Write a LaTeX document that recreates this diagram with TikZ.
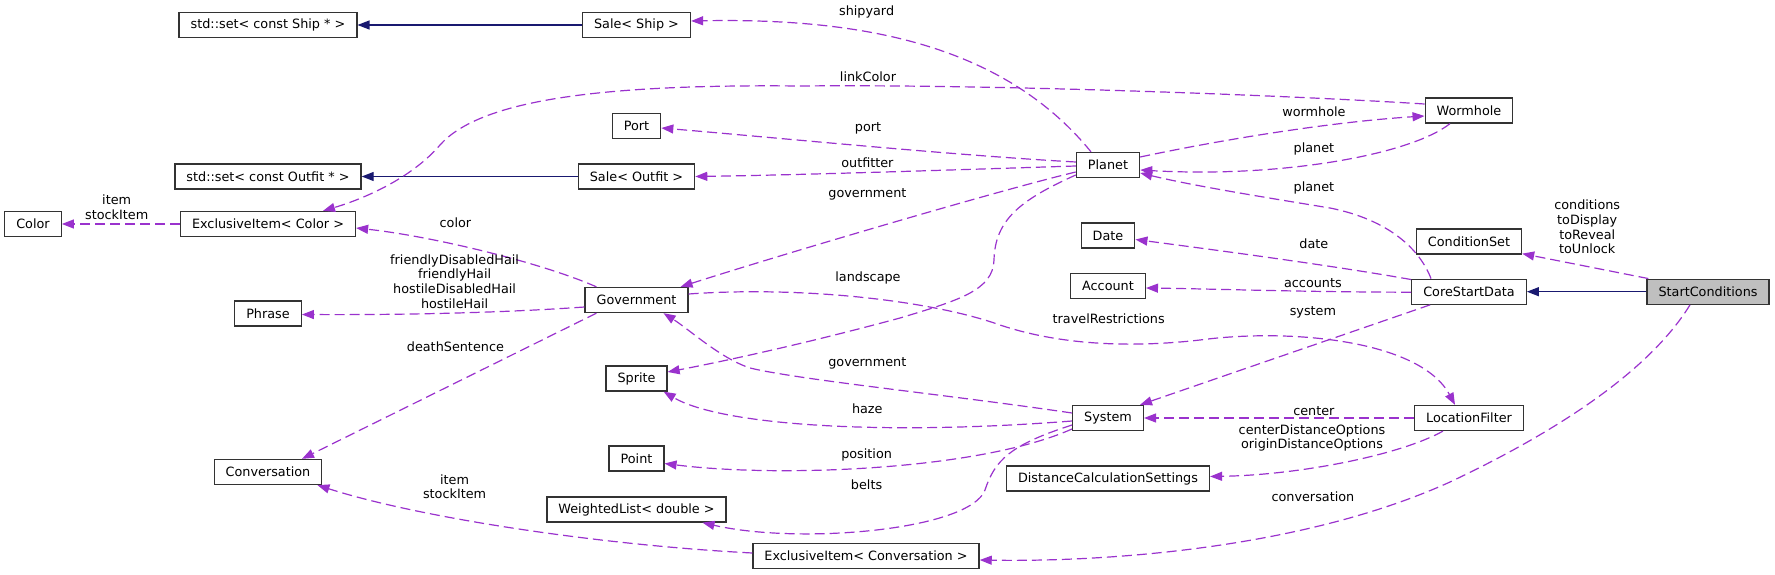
\documentclass[tikz,border=0pt]{standalone}
\usepackage{fontspec}
\setmainfont{DejaVu Sans}
\usetikzlibrary{arrows.meta,calc}
\definecolor{edgepurple}{HTML}{9A32CD}
\definecolor{inhblue}{HTML}{191970}
\definecolor{basegray}{HTML}{BFBFBF}
\newcommand{\diafont}{\fontsize{12.8}{14.7}\selectfont}
\begin{document}
\begin{tikzpicture}[x=1pt,y=-1pt,
 cls/.style={draw=black!80, fill=white, line width=1.3pt, minimum height=25pt, inner xsep=11.5pt, inner ysep=0pt, font=\diafont},
 rel/.style={draw=edgepurple, line width=1.2pt, dash pattern=on 10pt off 5pt, -{Triangle[length=12pt,width=9pt]}},
 inh/.style={draw=inhblue, line width=1.2pt, -{Triangle[length=12pt,width=9pt]}},
 lbl/.style={font=\diafont, inner sep=0pt, align=center}]
\useasboundingbox (0,0) rectangle (1775,575);
% nodes
\node[cls] (Color) at (33,224) {Color};
\node[cls] (ExclColor) at (268,224) {ExclusiveItem< Color >};
\node[cls] (SetShip) at (268,25) {std::set< const Ship * >};
\node[cls] (SetOutfit) at (268,176.5) {std::set< const Outfit * >};
\node[cls] (Phrase) at (268,313.5) {Phrase};
\node[cls] (Conversation) at (268,472) {Conversation};
\node[cls] (SaleShip) at (636.5,25) {Sale< Ship >};
\node[cls] (Port) at (636.5,126) {Port};
\node[cls] (SaleOutfit) at (636.5,176.5) {Sale< Outfit >};
\node[cls] (Government) at (636.5,300) {Government};
\node[cls] (Sprite) at (636.5,378.5) {Sprite};
\node[cls] (Point) at (636.5,458.5) {Point};
\node[cls] (WeightedList) at (636.5,509.5) {WeightedList< double >};
\node[cls] (ExclConversation) at (866,556) {ExclusiveItem< Conversation >};
\node[cls] (Planet) at (1108,165) {Planet};
\node[cls] (Date) at (1108,235.5) {Date};
\node[cls] (Account) at (1108,286) {Account};
\node[cls] (System) at (1108,418) {System};
\node[cls] (DistCalc) at (1108,478.5) {DistanceCalculationSettings};
\node[cls] (Wormhole) at (1469,110.5) {Wormhole};
\node[cls] (ConditionSet) at (1469,241.5) {ConditionSet};
\node[cls] (CoreStartData) at (1469,291.7) {CoreStartData};
\node[cls] (LocationFilter) at (1469,418) {LocationFilter};
\node[cls, fill=basegray] (StartConditions) at (1708,291.7) {StartConditions};
% inheritance
\draw[inh] (SaleShip.west) -- (SetShip.east);
\draw[inh] (SaleOutfit.west) -- (SetOutfit.east);
\draw[inh] (StartConditions.west) -- (CoreStartData.east);
% usage
\draw[rel] ($(Planet.north)+(-17,0)$) .. controls (1000,40) and (850,18) .. ($(SaleShip.east)+(0,-4)$);
\draw[rel] ($(Wormhole.west)+(0,-6.5)$) .. controls (1300,96) and (1000,84) .. (800,86) .. controls (600,84) and (480,100) .. (440,145) .. controls (410,180) and (360,200) .. ($(ExclColor.north)+(55,0)$);
\draw[rel] ($(Planet.east)+(0,-8)$) .. controls (1220,140) and (1330,122) .. ($(Wormhole.west)+(0,5.5)$);
\draw[rel] ($(Wormhole.south)+(-19,0)$) .. controls (1410,155) and (1280,178) .. ($(Planet.east)+(0,5)$);
\draw[rel] ($(CoreStartData.north)+(-38,0)$) .. controls (1420,250) and (1390,220) .. (1330,208) .. controls (1250,195) and (1190,185) .. ($(Planet.east)+(0,8)$);
\draw[rel] ($(Planet.west)+(0,-3)$) .. controls (950,155) and (780,138) .. ($(Port.east)+(0,2)$);
\draw[rel] ($(Planet.west)+(0,1)$) .. controls (950,170) and (800,175) .. (SaleOutfit.east);
\draw[rel] ($(Planet.west)+(0,7)$) .. controls (1000,190) and (780,255) .. ($(Government.north east)+(-8,0)$);
\draw[rel] ($(Planet.west)+(0,10)$) .. controls (1020,200) and (995,220) .. (994,260) .. controls (993,290) and (960,300) .. (900,318) .. controls (800,345) and (720,362) .. ($(Sprite.east)+(0,-6.5)$);
\draw[rel] ($(Government.north west)+(12,0)$) .. controls (540,262) and (430,236) .. ($(ExclColor.east)+(0,4)$);
\draw[rel] ($(Government.west)+(0,7)$) .. controls (500,313) and (400,315) .. ($(Phrase.east)+(0,1)$);
\draw[rel] ($(Government.south west)+(12,0)$) -- ($(Conversation.north)+(34,0)$);
\draw[rel] (ExclColor.west) -- (Color.east);
\draw[rel] ($(ExclConversation.west)+(0,-3)$) .. controls (600,545) and (420,518) .. ($(Conversation.south east)+(-5,0)$);
\draw[rel] ($(System.west)+(0,-5)$) .. controls (950,395) and (800,380) .. (750,368) .. controls (720,358) and (690,330) .. ($(Government.south)+(27,0)$);
\draw[rel] ($(System.west)+(0,3)$) .. controls (880,436) and (720,425) .. ($(Sprite.south east)+(-4,0)$);
\draw[rel] ($(System.west)+(0,11)$) .. controls (980,470) and (780,478) .. ($(Point.east)+(0,5)$);
\draw[rel] ($(System.west)+(0,7)$) .. controls (1010,445) and (995,460) .. (985,490) .. controls (970,530) and (800,545) .. ($(WeightedList.south)+(66,0)$);
\draw[rel] ($(CoreStartData.north west)+(0,1)$) .. controls (1330,265) and (1200,248) .. ($(Date.east)+(0,4)$);
\draw[rel] ($(CoreStartData.west)+(0,0.5)$) .. controls (1300,292) and (1220,289) .. ($(Account.east)+(0,2)$);
\draw[rel] ($(CoreStartData.south west)+(19,0)$) -- ($(System.north east)+(-4,0)$);
\draw[rel] ($(Government.east)+(0,-6)$) .. controls (800,286) and (930,300) .. (1000,325) .. controls (1060,345) and (1130,348) .. (1200,340) .. controls (1290,328) and (1420,340) .. ($(LocationFilter.north)+(-14,0)$);
\draw[rel] (LocationFilter.west) -- (System.east);
\draw[rel] ($(LocationFilter.south west)+(29,0)$) .. controls (1400,455) and (1300,475) .. ($(DistCalc.east)+(0,-2)$);
\draw[rel] ($(StartConditions.north west)+(2,0)$) -- ($(ConditionSet.south east)+(0,-1)$);
\draw[rel] ($(StartConditions.south)+(-18,0)$) .. controls (1650,370) and (1560,430) .. (1450,482) .. controls (1300,550) and (1100,562) .. ($(ExclConversation.east)+(0,4)$);
% labels
\node[lbl] (lShipyard) at (866.6,11.7) {shipyard};
\node[lbl] (lLinkColor) at (868,76.7) {linkColor};
\node[lbl] (lPort) at (868,128.3) {port};
\node[lbl] (lOutfitter) at (867.4,162.7) {outfitter};
\node[lbl] (lGovP) at (867.4,194.3) {government};
\node[lbl] (lWormhole) at (1313.9,111.7) {wormhole};
\node[lbl] (lPlanetW) at (1313.9,149) {planet};
\node[lbl] (lPlanetC) at (1313.9,187.7) {planet};
\node[lbl] (lConditions) at (1587.2,227) {conditions\\toDisplay\\toReveal\\toUnlock};
\node[lbl] (lItemColor) at (116.7,207.5) {item\\stockItem};
\node[lbl] (lColor) at (455.4,222.7) {color};
\node[lbl] (lHails) at (454.6,281.3) {friendlyDisabledHail\\friendlyHail\\hostileDisabledHail\\hostileHail};
\node[lbl] (lDeath) at (455.4,346.7) {deathSentence};
\node[lbl] (lLandscape) at (868,278.3) {landscape};
\node[lbl] (lTravel) at (1108.7,318.3) {travelRestrictions};
\node[lbl] (lDate) at (1313.9,243.3) {date};
\node[lbl] (lAccounts) at (1312.9,282.7) {accounts};
\node[lbl] (lSystem) at (1312.9,312.7) {system};
\node[lbl] (lGovS) at (867.3,363.3) {government};
\node[lbl] (lHaze) at (867.3,408.3) {haze};
\node[lbl] (lCenter) at (1313.9,411) {center};
\node[lbl] (lDistOpt) at (1312,438) {centerDistanceOptions\\originDistanceOptions};
\node[lbl] (lPosition) at (866.6,455) {position};
\node[lbl] (lBelts) at (866.6,484.3) {belts};
\node[lbl] (lItemConv) at (454.6,486.8) {item\\stockItem};
\node[lbl] (lConversation) at (1312.9,496.7) {conversation};
\end{tikzpicture}
\end{document}
